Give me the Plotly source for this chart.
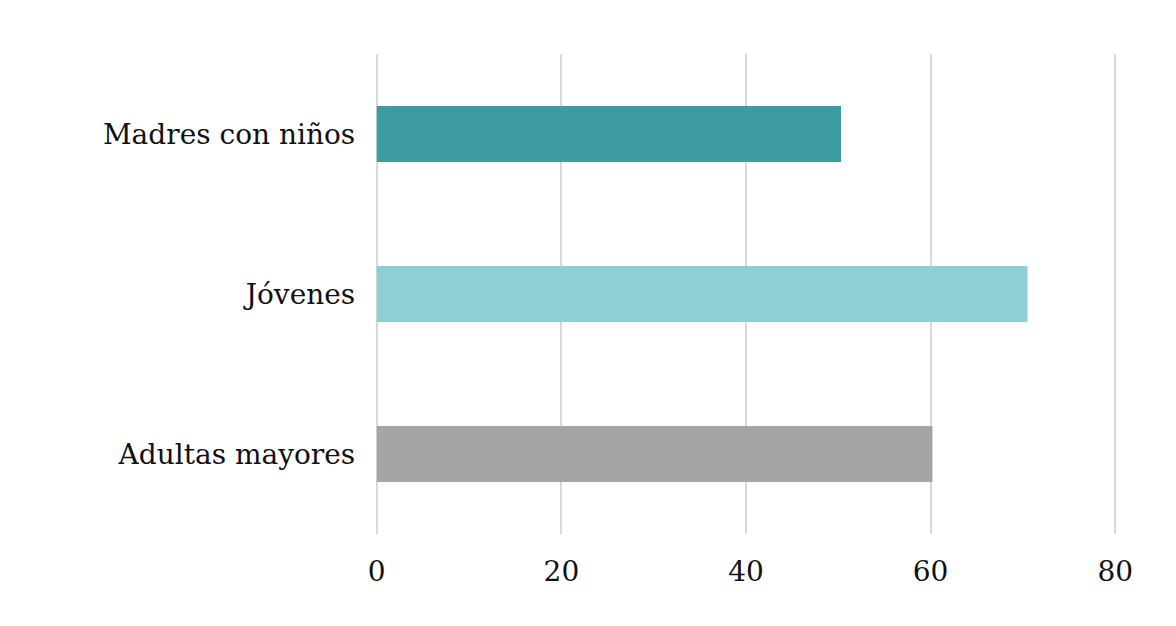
import plotly.graph_objects as go

categories = ["Adultas mayores", "Jóvenes", "Madres con niños"]
values = [60.2, 70.5, 50.3]
colors = ["#a5a5a5", "#8ecfd6", "#3c9ca1"]
tick_vals = [0, 20, 40, 60, 80]

fig = go.Figure(go.Bar(x=values, y=categories, orientation="h", marker_color=colors, marker_line_width=0))
fig.update_layout(
    width=1176, height=626, paper_bgcolor="white", plot_bgcolor="white",
    margin=dict(l=366, r=66, t=46, b=100), bargap=0.65, showlegend=False,
    font=dict(family="DejaVu Serif", size=28, color="#111"),
)
fig.update_xaxes(range=[-0.3, 80.3], tickvals=tick_vals, showgrid=True, gridcolor="#d9d9d9", gridwidth=2,
                 zeroline=True, zerolinecolor="#d9d9d9", zerolinewidth=2, ticks="", ticklabelstandoff=18)
fig.update_yaxes(ticks="", ticksuffix="  ", showgrid=False)
fig.write_html("out.html")
